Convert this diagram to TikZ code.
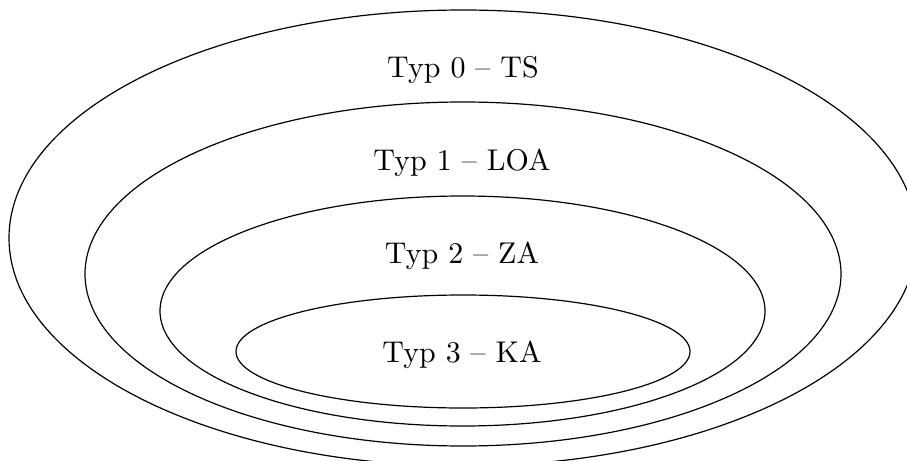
\documentclass[tikz,border=0pt]{standalone}
\begin{document}
\begin{tikzpicture}[x=0.33333pt,y=-0.33333pt,
  ring/.style={draw=black,line width=0.4pt},
  lbl/.style={anchor=base,inner sep=0pt,font=\normalsize}]
\useasboundingbox (0,0) rectangle (907,461);
\clip (0,0) rectangle (907,461);
\draw[ring] (463,238) ellipse [x radius=454, y radius=228];
\draw[ring] (463,274) ellipse [x radius=378, y radius=172];
\draw[ring] (462.5,311) ellipse [x radius=302.5, y radius=115];
\draw[ring] (463,351.5) ellipse [x radius=227, y radius=56.5];
\node[lbl] (t0) at (463,77) {Typ 0 -- TS};
\node[lbl] (t1) at (462,170) {Typ 1 -- LOA};
\node[lbl] (t2) at (462,263) {Typ 2 -- ZA};
\node[lbl] (t3) at (462,362) {Typ 3 -- KA};
\end{tikzpicture}
\end{document}
